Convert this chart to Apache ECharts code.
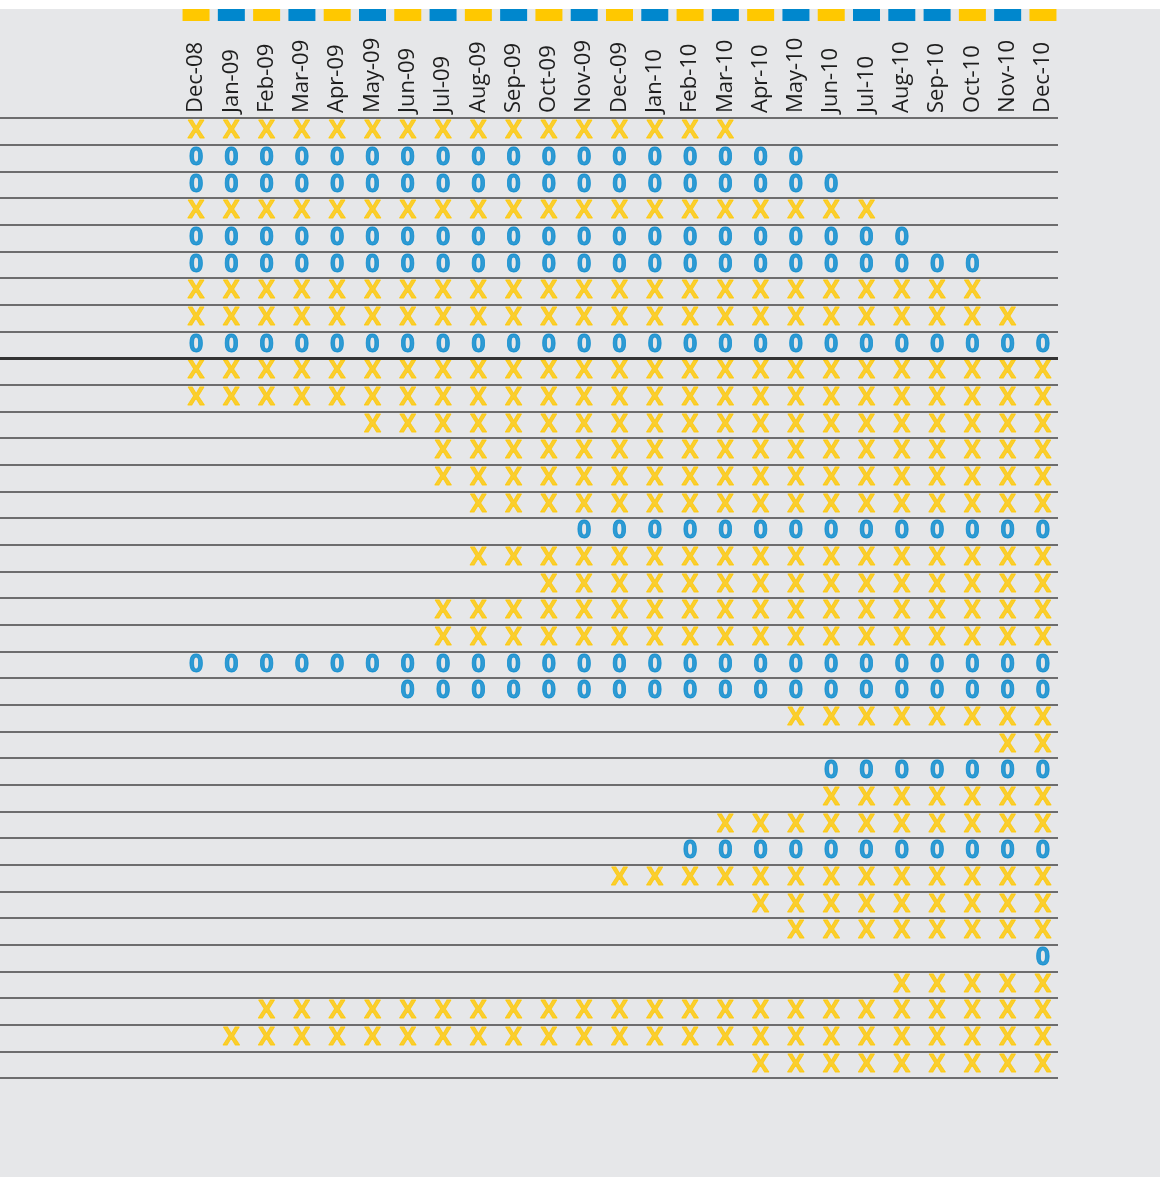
<!DOCTYPE html>
<html>
<head>
<meta charset="utf-8">
<script src="https://cdn.jsdelivr.net/npm/echarts@6/dist/echarts.min.js"></script>
<style>
  html, body { margin: 0; padding: 0; background: #fff; }
  #chart { width: 1160px; height: 1177px; }
</style>
</head>
<body>
<div id="chart"></div>
<script>
// months along the top
const months = ['Dec-08', 'Jan-09', 'Feb-09', 'Mar-09', 'Apr-09', 'May-09', 'Jun-09', 'Jul-09',
  'Aug-09', 'Sep-09', 'Oct-09', 'Nov-09', 'Dec-09', 'Jan-10', 'Feb-10', 'Mar-10', 'Apr-10',
  'May-10', 'Jun-10', 'Jul-10', 'Aug-10', 'Sep-10', 'Oct-10', 'Nov-10', 'Dec-10'];
// colour key squares over each month (Y = yellow, B = blue)
const monthKeys = ['Y', 'B', 'Y', 'B', 'Y', 'B', 'Y', 'B', 'Y', 'B', 'Y', 'B', 'Y', 'B', 'Y',
  'B', 'Y', 'B', 'Y', 'B', 'B', 'B', 'Y', 'B', 'Y'];
// each row: mark, first month, last month
const rows = [
  ['X', 'Dec-08', 'Mar-10'],
  ['0', 'Dec-08', 'May-10'],
  ['0', 'Dec-08', 'Jun-10'],
  ['X', 'Dec-08', 'Jul-10'],
  ['0', 'Dec-08', 'Aug-10'],
  ['0', 'Dec-08', 'Oct-10'],
  ['X', 'Dec-08', 'Oct-10'],
  ['X', 'Dec-08', 'Nov-10'],
  ['0', 'Dec-08', 'Dec-10'],
  ['X', 'Dec-08', 'Dec-10'],
  ['X', 'Dec-08', 'Dec-10'],
  ['X', 'May-09', 'Dec-10'],
  ['X', 'Jul-09', 'Dec-10'],
  ['X', 'Jul-09', 'Dec-10'],
  ['X', 'Aug-09', 'Dec-10'],
  ['0', 'Nov-09', 'Dec-10'],
  ['X', 'Aug-09', 'Dec-10'],
  ['X', 'Oct-09', 'Dec-10'],
  ['X', 'Jul-09', 'Dec-10'],
  ['X', 'Jul-09', 'Dec-10'],
  ['0', 'Dec-08', 'Dec-10'],
  ['0', 'Jun-09', 'Dec-10'],
  ['X', 'May-10', 'Dec-10'],
  ['X', 'Nov-10', 'Dec-10'],
  ['0', 'Jun-10', 'Dec-10'],
  ['X', 'Jun-10', 'Dec-10'],
  ['X', 'Mar-10', 'Dec-10'],
  ['0', 'Feb-10', 'Dec-10'],
  ['X', 'Dec-09', 'Dec-10'],
  ['X', 'Apr-10', 'Dec-10'],
  ['X', 'May-10', 'Dec-10'],
  ['0', 'Dec-10', 'Dec-10'],
  ['X', 'Aug-10', 'Dec-10'],
  ['X', 'Feb-09', 'Dec-10'],
  ['X', 'Jan-09', 'Dec-10'],
  ['X', 'Apr-10', 'Dec-10']
];
const dividerAfterRow = 9;

const YELLOW = '#ffc800';
const BLUE = '#0087cd';

const rowIds = rows.map((r, i) => String(i + 1));
const xPoints = [];
const oPoints = [];
rows.forEach((r, i) => {
  const a = months.indexOf(r[1]);
  const b = months.indexOf(r[2]);
  for (let m = a; m <= b; m++) {
    (r[0] === 'X' ? xPoints : oPoints).push([months[m], rowIds[i]]);
  }
});

const markLabel = (txt, color) => ({
  show: true,
  position: 'inside',
  formatter: txt,
  color: color,
  textBorderColor: color,
  textBorderWidth: 0.8,
  fontFamily: 'Open Sans',
  fontWeight: 'bold',
  fontSize: 25
});

let chart = echarts.init(document.getElementById('chart'));
chart.setOption({
  backgroundColor: '#e6e7e9',
  animation: false,
  graphic: [
    { type: 'rect', left: 0, top: 0, shape: { width: 1160, height: 9 }, style: { fill: '#ffffff' }, silent: true }
  ],
  grid: [
    // row rules
    { left: 0, right: 102, top: 118, bottom: 99 },
    // marks
    { left: 178.4, right: 99.4, top: 118, bottom: 99 },
    // key squares
    { left: 178.4, right: 99.4, top: 9, height: 12 }
  ],
  xAxis: [
    { gridIndex: 0, type: 'value', min: 0, max: 1, show: false },
    {
      gridIndex: 1,
      type: 'category',
      position: 'top',
      data: months,
      axisLine: { show: false },
      axisTick: { show: false },
      splitLine: { show: false },
      axisLabel: {
        rotate: -90,
        margin: 5,
        interval: 0,
        color: '#1e1e1e',
        fontFamily: 'Open Sans',
        fontSize: 22
      }
    },
    { gridIndex: 2, type: 'category', data: months, show: false }
  ],
  yAxis: [
    {
      gridIndex: 0,
      type: 'value',
      min: 0,
      max: rows.length,
      interval: 1,
      inverse: true,
      axisLine: { show: false },
      axisTick: { show: false },
      axisLabel: { show: false },
      splitLine: { show: true, showMinLine: true, showMaxLine: true, lineStyle: { color: '#454545', width: 1.6 } }
    },
    {
      gridIndex: 1,
      type: 'category',
      data: rowIds,
      inverse: true,
      show: false
    },
    { gridIndex: 2, type: 'value', min: 0, max: 1, show: false }
  ],
  series: [
    {
      type: 'scatter',
      xAxisIndex: 0,
      yAxisIndex: 0,
      data: [],
      silent: true,
      markLine: {
        silent: true,
        symbol: 'none',
        label: { show: false },
        lineStyle: { color: '#333', width: 3, type: 'solid' },
        data: [{ yAxis: dividerAfterRow }]
      }
    },
    {
      name: 'X',
      type: 'scatter',
      xAxisIndex: 1,
      yAxisIndex: 1,
      symbolSize: 1,
      itemStyle: { color: 'rgba(0,0,0,0)' },
      label: markLabel('X', YELLOW),
      data: xPoints
    },
    {
      name: '0',
      type: 'scatter',
      xAxisIndex: 1,
      yAxisIndex: 1,
      symbolSize: 1,
      itemStyle: { color: 'rgba(0,0,0,0)' },
      label: markLabel('0', BLUE),
      data: oPoints
    },
    {
      type: 'bar',
      xAxisIndex: 2,
      yAxisIndex: 2,
      barWidth: 27,
      silent: true,
      data: monthKeys.map(k => ({ value: 1, itemStyle: { color: k === 'Y' ? YELLOW : BLUE } }))
    }
  ]
});
window.addEventListener('resize', function () {
  chart.resize();
});
</script>
</body>
</html>
